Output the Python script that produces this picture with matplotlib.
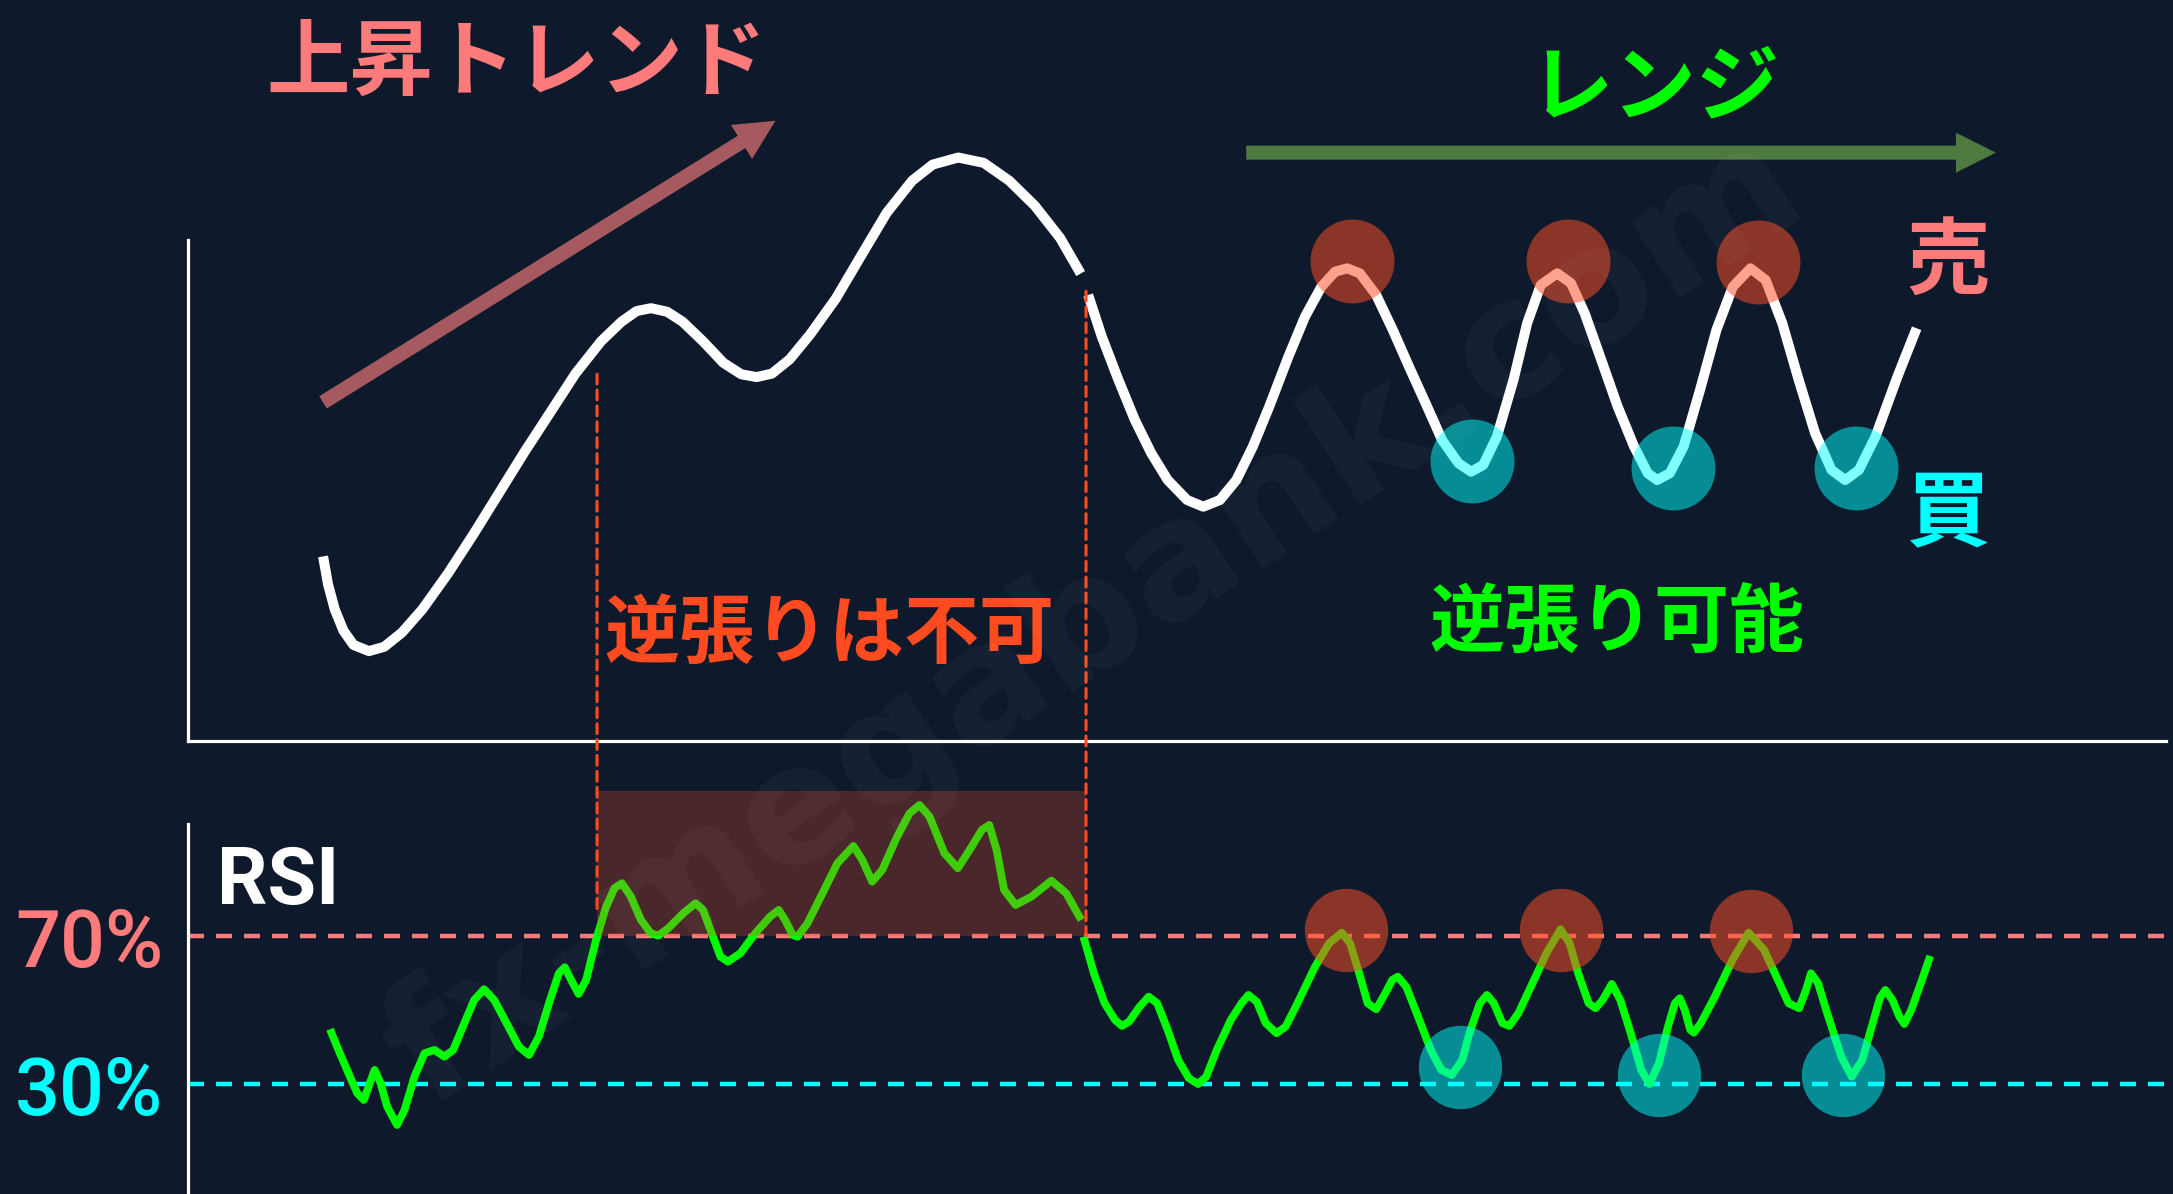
import matplotlib
matplotlib.use('Agg')
import matplotlib.pyplot as plt
from matplotlib.patches import Rectangle, ConnectionPatch

BG = '#0e1a2c'
JP = ['Noto Sans CJK JP', 'DejaVu Sans']

# ---- price (upper panel): x = time 0-100, y = price 0-100 ----
trend_t = [6.83, 7.08, 7.42, 7.86, 8.37, 9.15, 9.92, 10.82, 11.85, 13.14, 14.43, 15.72, 17.01,
           18.30, 19.59, 20.88, 21.91, 22.68, 23.41, 24.23, 25.01, 26.04, 27.07, 27.97, 28.75,
           29.52, 30.42, 31.46, 32.75, 34.03, 35.32, 36.61, 37.65, 38.94, 40.23, 41.52, 42.81,
           44.09, 45.13]
trend_p = [24.91, 21.15, 17.77, 14.89, 12.96, 12.13, 12.71, 14.64, 17.77, 22.59, 27.89, 33.44,
           38.99, 44.28, 49.58, 53.93, 56.57, 58.02, 58.41, 57.92, 56.57, 53.93, 51.03, 49.49,
           49.11, 49.58, 51.51, 54.89, 59.70, 65.49, 71.27, 75.61, 77.79, 78.74, 78.02, 75.61,
           72.24, 67.89, 63.08]
range_t = [45.51, 46.20, 47.04, 47.87, 48.70, 49.53, 50.51, 51.33, 52.17, 53.00, 53.83, 54.66,
           55.63, 56.47, 57.30, 57.99, 58.60, 59.24, 60.07, 60.91, 61.73, 62.57, 63.40, 64.23,
           64.87, 65.48, 66.17, 67.01, 67.70, 68.39, 69.22, 69.92, 70.61, 71.45, 72.28, 73.11,
           73.80, 74.27, 74.91, 75.61, 76.44, 77.27, 78.10, 78.99, 79.76, 80.60, 81.43, 82.26,
           83.09, 83.78, 84.47, 85.31, 86.42, 87.39]
range_p = [60.19, 54.56, 48.72, 43.32, 38.83, 35.22, 32.52, 31.62, 32.52, 35.22, 39.72, 45.11,
           51.86, 57.26, 61.31, 63.33, 63.79, 63.12, 60.19, 55.47, 50.51, 45.57, 40.62, 37.48,
           36.34, 37.25, 41.07, 48.72, 56.37, 61.54, 63.12, 61.77, 57.72, 51.42, 45.11, 39.72,
           36.13, 35.22, 36.13, 39.72, 47.37, 55.47, 61.31, 63.79, 62.21, 56.37, 48.72, 41.53,
           36.57, 35.22, 36.57, 41.07, 49.16, 55.70]
sell_t = [58.85, 69.77, 79.37]
sell_p = [64.8, 64.8, 64.6]
buy_t = [64.91, 75.08, 84.33]
buy_p = [37.8, 36.8, 36.8]

# ---- RSI (lower panel) ----
rsi1_t = [7.18, 7.68, 8.19, 8.56, 8.89, 9.19, 9.44, 9.74, 10.07, 10.57, 10.95, 11.45, 11.96,
          12.46, 12.96, 13.41, 13.97, 14.47, 14.97, 15.48, 16.11, 16.73, 17.24, 17.74, 18.25,
          18.75, 19.05, 19.37, 19.75, 20.13, 20.63, 21.14, 21.56, 21.94, 22.39, 22.90, 23.40,
          23.78, 24.28, 25.04, 25.66, 26.04, 26.54, 26.92, 27.30, 27.93, 28.68, 29.43, 29.86,
          30.19, 30.57, 30.82, 31.32, 32.08, 32.83, 33.64, 34.09, 34.59, 35.10, 35.85, 36.48,
          36.98, 37.49, 38.24, 38.92, 39.62, 40.13, 40.51, 40.88, 41.26, 41.84, 42.64, 43.65,
          44.40, 45.16]
rsi1_v = [44.83, 38.38, 32.10, 27.64, 25.84, 30.32, 33.90, 30.32, 24.04, 19.12, 23.15, 32.10,
          38.38, 39.27, 37.47, 39.27, 46.44, 52.70, 55.57, 52.70, 46.44, 40.15, 37.92, 42.84,
          51.81, 59.87, 61.48, 58.07, 54.31, 58.07, 68.82, 77.76, 82.71, 84.05, 80.45, 74.19,
          70.62, 69.97, 71.96, 75.99, 78.68, 76.88, 69.70, 64.33, 62.99, 65.25, 70.62, 75.08,
          76.88, 74.19, 70.16, 69.70, 73.30, 81.36, 89.42, 94.07, 90.31, 84.48, 87.62, 96.57,
          102.85, 105.08, 101.94, 92.11, 88.08, 93.88, 98.37, 99.71, 93.00, 82.25, 78.22, 80.45,
          84.75, 81.36, 74.19]
rsi2_t = [45.27, 45.80, 46.34, 46.87, 47.22, 47.58, 48.11, 48.57, 49.00, 49.53, 50.06, 50.60,
          51.06, 51.48, 52.01, 52.72, 53.26, 53.61, 54.03, 54.49, 55.03, 55.49, 56.09, 56.98,
          57.69, 58.33, 58.75, 59.21, 59.64, 60.07, 60.53, 60.88, 61.16, 61.59, 62.12, 62.83,
          63.36, 63.89, 64.42, 64.78, 65.31, 65.67, 66.02, 66.45, 66.80, 67.26, 67.97, 68.68,
          69.39, 69.85, 70.28, 70.81, 71.16, 71.52, 71.98, 72.41, 72.94, 73.47, 73.89, 74.36,
          74.82, 75.17, 75.42, 75.67, 75.95, 76.13, 76.48, 77.19, 78.08, 78.90, 79.68, 80.38,
          80.92, 81.45, 81.80, 82.05, 82.41, 82.87, 83.58, 84.11, 84.64, 85.17, 85.53, 85.81,
          86.17, 86.52, 86.77, 87.12, 87.66, 88.08]
rsi2_v = [69.70, 59.87, 51.81, 47.33, 45.72, 46.87, 50.90, 53.59, 51.81, 44.64, 36.58, 31.67,
          30.13, 32.10, 39.27, 47.33, 51.81, 54.04, 52.24, 46.44, 43.75, 45.53, 51.81, 61.65,
          67.93, 70.78, 67.93, 59.87, 51.81, 50.20, 54.50, 58.07, 58.96, 56.27, 49.13, 39.27,
          33.90, 32.55, 36.58, 43.75, 51.81, 54.04, 51.81, 46.44, 45.72, 49.13, 57.19, 65.25,
          71.69, 67.93, 59.87, 51.81, 50.47, 52.70, 57.00, 52.70, 43.75, 33.90, 30.13, 35.69,
          45.53, 51.81, 53.16, 50.01, 44.64, 43.92, 46.44, 53.59, 63.45, 70.78, 66.13, 58.07,
          51.81, 50.47, 55.39, 59.87, 57.19, 49.13, 37.47, 32.10, 36.58, 46.44, 53.16, 55.39,
          52.70, 48.21, 46.25, 50.01, 58.07, 64.52]
rsi_sell_t = [58.54, 69.41, 79.02]
rsi_sell_v = [71.5, 71.5, 71.2]
rsi_buy_t = [64.31, 74.37, 83.67]
rsi_buy_v = [34.7, 32.6, 32.6]

overbought = 70
oversold = 30
zone_t = [20.68, 45.40]      # 逆張り不可の区間
zone_top = 108.8
cut_top = [49.5, 60.7]       # 縦の点線の上端(価格)
cut_bottom = [76.1, 70.0]    # 縦の点線の下端(RSI)

fig = plt.figure(figsize=(21.73, 11.94), dpi=100, facecolor=BG)

ax1 = fig.add_axes([0.0865, 0.3794, 0.9103, 0.6206])
ax2 = fig.add_axes([0.0865, -0.0018, 0.9103, 0.3648])
for ax in (ax1, ax2):
    ax.patch.set_visible(False)
    ax.set_xlim(0, 100)
    ax.set_xticks([])
    ax.set_yticks([])
    for s in ax.spines.values():
        s.set_visible(False)
ax1.set_ylim(0, 100)
ax2.set_ylim(0, 117)

ax1.spines['left'].set_visible(True)
ax1.spines['bottom'].set_visible(True)
ax1.spines['left'].set_bounds(0, 67.6)
ax2.spines['left'].set_visible(True)
ax2.spines['left'].set_bounds(0, 100)
for s in (ax1.spines['left'], ax1.spines['bottom'], ax2.spines['left']):
    s.set_color('white')
    s.set_linewidth(2.3)

# price
for xs, ys in ((trend_t, trend_p), (range_t, range_p)):
    ax1.plot(xs, ys, color='white', lw=7.2, solid_capstyle='butt', solid_joinstyle='round', zorder=3)
ax1.scatter(sell_t, sell_p, s=3650, color='#ff4c25', alpha=0.52, lw=0, zorder=4)
ax1.scatter(buy_t, buy_p, s=3650, color='#00ffff', alpha=0.5, lw=0, zorder=4)

# RSI
ax2.axhline(overbought, xmin=0, xmax=1.01, color='#ff7b7b', lw=3.2, ls=(0, (3.6, 2.7)), clip_on=False, zorder=2)
ax2.axhline(oversold, xmin=0, xmax=1.01, color='#00ffff', lw=3.2, ls=(0, (3.6, 2.7)), clip_on=False, zorder=2)
for xs, ys in ((rsi1_t, rsi1_v), (rsi2_t, rsi2_v)):
    ax2.plot(xs, ys, color='#00ff00', lw=5.6, solid_capstyle='butt', solid_joinstyle='round', zorder=3)
ax2.add_patch(Rectangle((zone_t[0], overbought), zone_t[1] - zone_t[0], zone_top - overbought,
                        color='#e64b28', alpha=0.28, lw=0, zorder=4))
ax2.scatter(rsi_sell_t, rsi_sell_v, s=3600, color='#ff4c25', alpha=0.52, lw=0, zorder=5)
ax2.scatter(rsi_buy_t, rsi_buy_v, s=3600, color='#00ffff', alpha=0.5, lw=0, zorder=5)

# 縦の点線
for t, top, bot in zip(zone_t, cut_top, cut_bottom):
    cp = ConnectionPatch(xyA=(t, top), coordsA=ax1.transData, xyB=(t, bot), coordsB=ax2.transData,
                         color='#ff4b1f', lw=2.2, ls=(0, (3.2, 2.0)), zorder=6)
    fig.add_artist(cp)

# 矢印
ax1.annotate('', xy=(29.7, 83.7), xytext=(6.83, 45.7), annotation_clip=False,
             arrowprops=dict(arrowstyle='simple,head_length=1.0,head_width=1.0,tail_width=0.36',
                             mutation_scale=28.8, color='#a65a60', lw=0, shrinkA=0, shrinkB=0))
ax1.annotate('', xy=(91.4, 79.4), xytext=(53.5, 79.4), annotation_clip=False,
             arrowprops=dict(arrowstyle='simple,head_length=1.0,head_width=1.0,tail_width=0.35',
                             mutation_scale=28.8, color='#4f7a3f', lw=0, shrinkA=0, shrinkB=0))

# テキスト
fig.text(0.2379, 0.9465, '上昇トレンド', color='#ff7b7b', fontsize=60, fontweight='bold', family=JP, ha='center', va='center')
fig.text(0.7616, 0.9255, 'レンジ', color='#00ff00', fontsize=60, fontweight='bold', family=JP, ha='center', va='center')
fig.text(0.8965, 0.7797, '売', color='#ff7b7b', fontsize=60, fontweight='bold', family=JP, ha='center', va='center')
fig.text(0.8965, 0.5687, '買', color='#00ffff', fontsize=60, fontweight='bold', family=JP, ha='center', va='center')
fig.text(0.3815, 0.4682, '逆張りは不可', color='#ff4b1f', fontsize=54, fontweight='bold', family=JP, ha='center', va='center')
fig.text(0.7441, 0.4774, '逆張り可能', color='#00ff00', fontsize=54, fontweight='bold', family=JP, ha='center', va='center')
fig.text(0.0999, 0.2429, 'RSI', color='white', fontsize=57, fontweight='bold', family='Roboto', ha='left', va='baseline')
fig.text(0.0069, 0.1901, '70%', color='#ff7b7b', fontsize=57, fontweight='medium', family='Roboto', ha='left', va='baseline')
fig.text(0.0069, 0.0662, '30%', color='#00ffff', fontsize=57, fontweight='medium', family='Roboto', ha='left', va='baseline')

# ウォーターマーク
fig.text(0.504, 0.48, 'fx-megabank.com', color='white', alpha=0.035, fontsize=118, fontweight='bold',
         family='DejaVu Sans', rotation=33, ha='center', va='center', rotation_mode='anchor', zorder=10)

fig.savefig('out.png', dpi=100, facecolor=BG)
